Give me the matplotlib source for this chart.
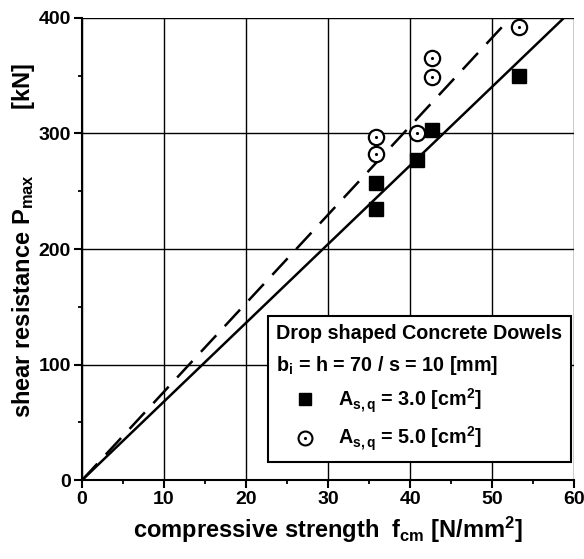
import matplotlib
matplotlib.use("Agg")
import matplotlib.pyplot as plt
from matplotlib.lines import Line2D
from matplotlib.legend_handler import HandlerTuple

# ---- data ----
fcm_sq = [35.8, 35.8, 40.8, 42.7, 53.2]
p_sq = [257, 235, 277, 303, 350]
fcm_ci = [35.8, 35.8, 40.8, 42.7, 42.7, 53.2]
p_ci = [297, 282, 300, 349, 365, 392]
line_x = [0, 60]
solid_y = [0, 408.6]
dashed_y = [0, 459.6]
x_ticks = [0, 10, 20, 30, 40, 50, 60]
y_ticks = [0, 100, 200, 300, 400]

plt.rcParams['font.family'] = ['Liberation Sans', 'DejaVu Sans']
plt.rcParams['font.weight'] = 'bold'
plt.rcParams['mathtext.fontset'] = 'custom'
plt.rcParams['mathtext.rm'] = 'Liberation Sans:bold'
plt.rcParams['mathtext.it'] = 'Liberation Sans:bold'
plt.rcParams['mathtext.bf'] = 'Liberation Sans:bold'
plt.rcParams['mathtext.default'] = 'rm'

fig = plt.figure(figsize=(5.84, 5.59), dpi=100)
ax = fig.add_axes([0.1404, 0.141, 0.843, 0.827])

ax.plot(line_x, solid_y, color='black', lw=1.8, zorder=2)
ax.plot(line_x, dashed_y, color='black', lw=1.8, dashes=(9, 5), zorder=2)
ax.plot(fcm_sq, p_sq, ls='none', marker='s', ms=9.5, mfc='black', mec='black', zorder=3)
ax.plot(fcm_ci, p_ci, ls='none', marker='o', ms=11, mfc='white', mec='black', mew=1.6, zorder=3)
ax.plot(fcm_ci, p_ci, ls='none', marker='.', ms=2.5, color='black', zorder=4)

ax.set_xlim(0, 60)
ax.set_ylim(0, 400)
ax.set_xticks(x_ticks)
ax.set_yticks(y_ticks)
ax.set_xticks([5, 15, 25, 35, 45, 55], minor=True)
ax.set_yticks([50, 150, 250, 350], minor=True)
ax.tick_params(which='major', direction='out', length=6, width=1.5, labelsize=14, pad=2)
ax.tick_params(which='minor', direction='out', length=3, width=1.3)
for lab in ax.get_xticklabels() + ax.get_yticklabels():
    lab.set_fontweight('bold')
ax.grid(True, which='major', color='black', lw=1.0)
ax.spines['top'].set_visible(False)
ax.spines['right'].set_visible(False)
ax.spines['left'].set_linewidth(1.5)
ax.spines['bottom'].set_linewidth(1.5)

ax.set_xlabel(r'compressive strength  f$_{cm}$ [N/mm$^{2}$]', fontsize=17, fontweight='bold', labelpad=5)
ax.set_ylabel(r'shear resistance P$_{max}$          [kN]', fontsize=17, fontweight='bold')
ax.yaxis.set_label_coords(-0.092, 0.518)

h_sq = Line2D([], [], ls='none', marker='s', ms=9, mfc='black', mec='black')
h_ci = Line2D([], [], ls='none', marker='o', ms=10, mfc='white', mec='black', mew=1.5)
h_dot = Line2D([], [], ls='none', marker='.', ms=2.5, color='black')
leg = ax.legend([h_sq, (h_ci, h_dot)],
                [r'A$_{s,q}$ = 3.0 [cm$^{2}$]', r'A$_{s,q}$ = 5.0 [cm$^{2}$]'],
                handler_map={tuple: HandlerTuple(ndivide=1, pad=0)},
                title='Drop shaped Concrete Dowels\n' + r'b$_{i}$ = h = 70 / s = 10 [mm]',
                loc='lower right', bbox_to_anchor=(1.014, 0.018),
                fancybox=False, framealpha=1, edgecolor='black',
                prop={'size': 14.2, 'weight': 'bold'}, title_fontproperties={'size': 14.2, 'weight': 'bold'},
                handlelength=2.9, handletextpad=0.2, labelspacing=0.5, borderpad=0.45)
leg._legend_box.align = 'left'
leg.get_title().set_linespacing(1.6)
leg.get_frame().set_linewidth(1.5)
leg.set_zorder(5)

fig.savefig('out.png', dpi=100)
